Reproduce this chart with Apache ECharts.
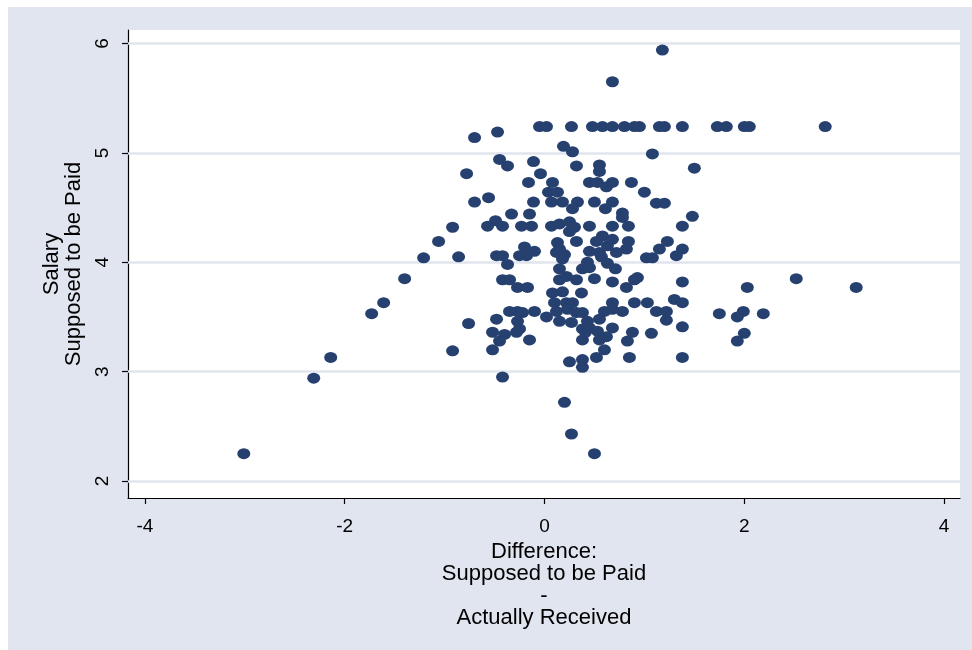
<!DOCTYPE html>
<html>
<head>
<meta charset="utf-8">
<script src="https://cdn.jsdelivr.net/npm/echarts@6/dist/echarts.min.js"></script>
<style>
  html, body { margin: 0; padding: 0; background: #ffffff; }
  #chart { width: 972px; height: 650px; }
</style>
</head>
<body>
<div id="chart"></div>
<script>
// Difference (supposed to be paid - actually received)
const difference = [
  // sparse / outer left
  -3.01,-2.31,-2.14,-1.73,-1.61,-1.40,-1.21,-1.06,-0.92,-0.86,-0.92,-0.76,-0.78,-0.70,-0.47,-0.70,-0.56,1.18,0.68,
  // row at 5.24
  -0.05,0.02,0.27,0.48,0.58,0.68,0.80,0.90,0.95,1.15,1.20,1.38,1.73,1.82,2.00,2.05,2.81,
  // right / outer
  1.08,1.50,1.48,1.12,1.20,1.38,2.52,3.12,2.03,1.99,1.75,1.93,2.19,2.00,1.93,0.20,0.27,0.50,-0.42,
  // core upper left
  0.19,0.28,-0.45,-0.37,-0.11,0.32,-0.04,-0.16,0.08,0.04,0.13,-0.11,0.07,0.18,0.33,0.28,-0.33,-0.15,-0.57,-0.49,
  -0.42,-0.23,-0.13,0.07,0.15,0.25,0.25,0.30,-0.20,-0.10,0.13,0.15,0.32,-0.48,-0.42,-0.25,-0.18,0.20,
  // core upper right
  0.55,0.55,0.45,0.53,0.62,0.68,0.87,1.00,0.50,0.68,0.61,0.78,0.78,0.45,0.68,0.84,0.58,0.52,0.68,0.84,
  0.82,0.45,0.55,0.72,0.63,1.23,1.15,1.38,1.02,1.08,1.32,
  // core lower left
  -0.37,0.12,0.18,0.15,0.15,0.22,0.32,0.38,-0.42,-0.35,-0.27,-0.17,0.08,0.18,0.37,0.10,0.22,0.28,0.12,0.23,
  0.32,0.38,-0.35,-0.27,-0.22,-0.10,-0.48,0.02,0.15,0.27,-0.27,-0.25,-0.28,-0.52,-0.40,-0.45,-0.15,-0.52,0.38,0.38,
  0.25,0.38,0.38,
  // core lower right
  0.43,0.45,0.50,0.57,0.63,0.71,0.68,0.82,0.90,0.93,0.68,0.90,1.03,1.12,1.22,1.22,1.30,1.38,0.60,0.68,
  0.78,0.55,0.43,0.45,0.41,0.53,0.68,0.62,0.55,0.60,0.88,0.83,1.07,1.38,0.52,0.85,1.38,1.38
];
// Salary supposed to be paid
const salary = [
  2.25,2.94,3.13,3.53,3.63,3.85,4.04,4.19,4.32,4.05,3.19,3.44,4.81,5.14,5.19,4.55,4.59,5.94,5.65,
  5.24,5.24,5.24,5.24,5.24,5.24,5.24,5.24,5.24,5.24,5.24,5.24,5.24,5.24,5.24,5.24,5.24,
  4.99,4.86,4.42,4.54,4.54,4.33,3.85,3.77,3.77,3.55,3.53,3.50,3.53,3.35,3.28,2.72,2.43,2.25,2.95,
  5.06,5.01,4.94,4.88,4.92,4.88,4.81,4.73,4.73,4.64,4.64,4.55,4.55,4.55,4.55,4.49,4.44,4.44,4.33,4.38,
  4.33,4.33,4.33,4.33,4.35,4.37,4.28,4.32,4.14,4.10,4.18,4.12,4.19,4.06,4.06,4.06,4.06,4.07,
  4.89,4.83,4.73,4.73,4.69,4.73,4.73,4.64,4.55,4.55,4.49,4.45,4.41,4.33,4.33,4.33,4.24,4.19,4.21,4.19,
  4.12,4.10,4.09,4.09,4.15,4.19,4.12,4.12,4.04,4.04,4.06,
  3.98,4.09,4.03,3.94,3.84,3.87,3.84,3.94,3.84,3.84,3.77,3.77,3.72,3.73,3.72,3.63,3.63,3.63,3.55,3.57,
  3.54,3.54,3.55,3.55,3.54,3.55,3.48,3.50,3.46,3.45,3.46,3.39,3.36,3.36,3.34,3.28,3.29,3.20,3.39,3.29,
  3.09,3.11,3.04,
  4.00,3.95,3.85,4.05,3.99,3.94,3.82,3.77,3.84,3.86,3.63,3.63,3.63,3.55,3.55,3.47,3.66,3.63,3.55,3.57,
  3.55,3.48,3.46,3.40,3.36,3.37,3.40,3.32,3.29,3.20,3.36,3.28,3.35,3.41,3.13,3.13,3.13,3.82
];
const xTicks = [-4, -2, 0, 2, 4];
const yTicks = [2, 3, 4, 5, 6];
const xTitle = 'Difference:\nSupposed to be Paid\n-\nActually Received';
const yTitle = 'Salary\nSupposed to be Paid';

const points = difference.map((d, i) => [d, salary[i]]);
const FONT = '"Liberation Sans", Arial, sans-serif';
const BG = '#e1e5ef';

const chart = echarts.init(document.getElementById('chart'), null, { renderer: 'canvas' });
chart.setOption({
  animation: false,
  backgroundColor: '#ffffff',
  graphic: [{
    type: 'rect', z: -10, silent: true,
    shape: { x: 8, y: 7, width: 964, height: 643 },
    style: { fill: BG }
  }],
  grid: {
    left: 128, top: 30, width: 832, height: 468,
    show: true, backgroundColor: '#ffffff', borderWidth: 0
  },
  xAxis: {
    type: 'value', min: -4.169, max: 4.159,
    axisLine: { onZero: false, lineStyle: { color: '#000', width: 1.2 } },
    axisTick: { customValues: xTicks, length: 6, lineStyle: { color: '#000', width: 1.2 } },
    axisLabel: { customValues: xTicks, color: '#000', fontSize: 19, fontFamily: FONT, margin: 19,
      formatter: v => String(v) },
    splitLine: { show: false },
    name: xTitle, nameLocation: 'middle', nameGap: 32,
    nameTextStyle: { color: '#000', fontSize: 22, fontFamily: FONT, lineHeight: 22 }
  },
  yAxis: {
    type: 'value', min: 1.845, max: 6.123,
    axisLine: { onZero: false, lineStyle: { color: '#000', width: 1.2 } },
    axisTick: { customValues: yTicks, length: 6, lineStyle: { color: '#000', width: 1.2 } },
    axisLabel: { customValues: yTicks, color: '#000', fontSize: 19, fontFamily: FONT, margin: 16, rotate: 90,
      formatter: v => String(v) },
    splitLine: { show: false },
    name: yTitle, nameLocation: 'middle', nameGap: 42, nameRotate: 90,
    nameTextStyle: { color: '#000', fontSize: 22, fontFamily: FONT, lineHeight: 22 }
  },
  series: [{
    type: 'line', data: [], z: 1, silent: true,
    markLine: {
      silent: true, symbol: 'none', label: { show: false },
      lineStyle: { color: '#e0e5ee', width: 2.5, type: 'solid' },
      data: yTicks.map(v => ({ yAxis: v }))
    }
  }, {
    type: 'scatter', z: 5,
    data: points,
    symbol: 'circle', symbolSize: [13, 11],
    itemStyle: { color: '#26406f', opacity: 1 }
  }]
});
</script>
</body>
</html>
